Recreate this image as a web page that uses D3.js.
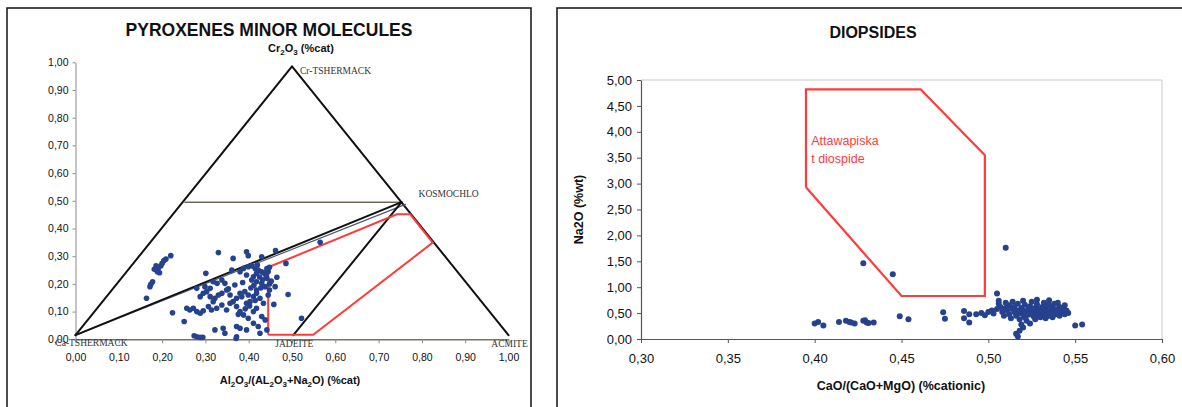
<!DOCTYPE html>
<html>
<head>
<meta charset="utf-8">
<script src="https://cdn.jsdelivr.net/npm/d3@7"></script>
<style>
  html, body { margin: 0; padding: 0; background: #fff; }
  svg { display: block; }
  text { font-family: "Liberation Sans", Arial, sans-serif; }
</style>
</head>
<body>
<svg id="chart" width="1182" height="407"></svg>
<script>
// ---------- Pyroxenes minor molecules (ternary projection) ----------
const pyxTicks = [0, 0.1, 0.2, 0.3, 0.4, 0.5, 0.6, 0.7, 0.8, 0.9, 1.0];

// end-member vertices [x, y]
const endMembers = [
  { name: "Ca-TSHERMACK", x: 0.0,   y: 0.015 },
  { name: "Cr-TSHERMACK", x: 0.5,   y: 0.985 },
  { name: "ACMITE",       x: 1.0,   y: 0.015 },
  { name: "KOSMOCHLO",    x: 0.753, y: 0.495 },
  { name: "JADEITE",      x: 0.503, y: 0.015 }
];

// reference field (red outline)
const pyxFieldX = [0.445, 0.445, 0.742, 0.773, 0.825, 0.549, 0.445];
const pyxFieldY = [0.016, 0.260, 0.451, 0.451, 0.349, 0.016, 0.016];

// analysed grains: Al2O3/(Al2O3+Na2O) and Cr2O3
const pyxX = [
  0.220,0.209,0.204,0.200,0.197,0.191,0.186,0.182,0.194,0.189,
  0.178,0.174,0.172,0.164,0.224,0.251,0.274,0.280,0.288,0.294,
  0.301,0.330,0.364,0.395,0.399,0.430,0.462,0.486,
  0.361,0.380,0.388,0.399,0.407,0.415,0.422,0.430,0.438,0.442,
  0.418,0.411,0.395,0.407,0.418,0.430,0.438,0.465,0.461,0.448,
  0.280,0.288,0.295,0.303,0.311,0.318,0.322,0.330,0.338,0.345,
  0.349,0.357,0.364,0.372,0.380,0.384,0.391,0.399,0.395,0.403,
  0.411,0.418,0.426,0.434,
  0.257,0.264,0.272,0.280,0.288,0.295,0.307,0.314,0.326,0.338,
  0.349,0.357,0.372,0.380,0.388,0.399,0.411,0.418,0.430,0.438,
  0.322,0.341,0.345,0.372,0.380,0.395,0.411,0.422,0.426,0.442,
  0.372,0.371,0.491,0.458,0.522,0.327,0.338,0.318,0.299,0.311,
  0.565,0.445,0.448,0.440,0.452,0.448,0.442,0.418,
  0.405,0.412,0.425,0.432,0.402,0.392,0.376,0.368,0.353,0.386,
  0.420,0.434,0.428,0.415,0.445
];
const pyxY = [
  0.302,0.290,0.284,0.274,0.265,0.256,0.265,0.253,0.240,0.244,
  0.208,0.199,0.190,0.148,0.096,0.064,0.013,0.009,0.007,0.007,
  0.238,0.313,0.292,0.316,0.302,0.298,0.320,0.274,
  0.250,0.244,0.256,0.262,0.265,0.256,0.250,0.244,0.238,0.220,
  0.238,0.226,0.232,0.214,0.208,0.202,0.190,0.224,0.190,0.178,
  0.184,0.154,0.166,0.172,0.154,0.136,0.148,0.160,0.166,0.202,
  0.178,0.160,0.136,0.148,0.166,0.154,0.172,0.160,0.130,0.136,
  0.154,0.166,0.148,0.130,
  0.112,0.106,0.112,0.100,0.094,0.103,0.118,0.106,0.112,0.124,
  0.106,0.130,0.118,0.100,0.088,0.076,0.100,0.112,0.082,0.070,
  0.034,0.040,0.022,0.046,0.040,0.034,0.058,0.046,0.022,0.034,
  0.009,0.003,0.162,0.126,0.076,0.202,0.214,0.208,0.190,0.184,
  0.350,0.245,0.260,0.230,0.210,0.200,0.255,0.178,
  0.185,0.195,0.225,0.215,0.120,0.110,0.090,0.196,0.182,0.205,
  0.268,0.240,0.185,0.140,0.160
];

// ---------- Diopsides ----------
const diXTicks = [0.30, 0.35, 0.40, 0.45, 0.50, 0.55, 0.60];
const diYTicks = [0, 0.5, 1.0, 1.5, 2.0, 2.5, 3.0, 3.5, 4.0, 4.5, 5.0];

// Attawapiskat diopside field
const diFieldX = [0.395, 0.395, 0.461, 0.498, 0.498, 0.450, 0.395];
const diFieldY = [2.93,  4.82,  4.82,  3.55,  0.83,  0.83,  2.93];

// CaO/(CaO+MgO) and Na2O wt%
const diX = [
  0.428,0.445,0.510,0.505,0.449,0.454,0.474,0.475,0.486,0.489,0.486,0.489,
  0.418,0.421,0.428,0.430,0.434,0.400,0.402,0.405,0.414,0.420,0.423,0.429,0.431,
  0.550,0.554,
  0.493,0.496,0.498,0.500,0.502,0.503,0.505,0.506,0.507,0.508,0.509,0.510,
  0.511,0.512,0.512,0.513,0.514,0.515,0.515,0.516,0.517,0.517,0.518,0.518,
  0.519,0.520,0.520,0.521,0.521,0.522,0.522,0.523,0.523,0.524,0.524,0.525,
  0.525,0.526,0.526,0.527,0.527,0.528,0.528,0.529,0.529,0.530,0.530,0.531,
  0.531,0.532,0.532,0.533,0.533,0.534,0.534,0.535,0.535,0.536,0.536,0.537,
  0.537,0.538,0.538,0.539,0.540,0.540,0.541,0.541,0.542,0.542,0.543,0.544,
  0.545,0.546,
  0.516,0.518,0.520,0.519,0.517,
  0.510,0.506,0.514,0.520,0.528,0.535,0.540,0.544
];
const diY = [
  1.46,1.25,1.76,0.88,0.44,0.38,0.515,0.39,0.54,0.48,0.40,0.32,
  0.35,0.32,0.35,0.32,0.32,0.30,0.33,0.26,0.33,0.33,0.30,0.36,0.31,
  0.26,0.28,
  0.48,0.50,0.46,0.52,0.55,0.49,0.58,0.68,0.62,0.52,0.45,0.60,
  0.55,0.65,0.48,0.40,0.58,0.52,0.62,0.45,0.55,0.68,0.50,0.38,
  0.60,0.48,0.55,0.66,0.42,0.52,0.35,0.58,0.47,0.63,0.30,0.55,
  0.72,0.44,0.50,0.60,0.38,0.53,0.67,0.46,0.58,0.50,0.42,0.62,
  0.55,0.70,0.48,0.58,0.40,0.52,0.65,0.45,0.75,0.56,0.50,0.62,
  0.42,0.55,0.68,0.48,0.58,0.52,0.62,0.45,0.55,0.50,0.60,0.48,
  0.55,0.50,
  0.10,0.16,0.22,0.28,0.05,
  0.70,0.74,0.72,0.74,0.76,0.66,0.70,0.65
];

const fmt = d => d.toFixed(2).replace(".", ",");
const dotColor = "#26428e";
const svg = d3.select("#chart");

// panel frames
svg.append("rect").attr("x", 7).attr("y", 8).attr("width", 524).attr("height", 420)
  .attr("fill", "none").attr("stroke", "#111").attr("stroke-width", 1.5);
svg.append("rect").attr("x", 557).attr("y", 8).attr("width", 640).attr("height", 420)
  .attr("fill", "none").attr("stroke", "#111").attr("stroke-width", 1.5);

const styleTicks = (g, size) => g.selectAll(".tick text")
  .style("font-size", size).style("font-family", "Liberation Sans, Arial, sans-serif").style("fill", "#111");

// ================= left panel =================
const xL = d3.scaleLinear().domain([0, 1]).range([75.5, 508.5]);
const yL = d3.scaleLinear().domain([0, 1]).range([339.3, 62.3]);
const L = svg.append("g");

L.append("text").attr("x", 269).attr("y", 36).attr("text-anchor", "middle")
  .style("font-size", "17.5px").style("font-weight", "bold").style("fill", "#111")
  .text("PYROXENES MINOR MOLECULES");
const crLab = L.append("text").attr("x", 301).attr("y", 52).attr("text-anchor", "middle")
  .style("font-size", "11px").style("font-weight", "bold").style("fill", "#111");
crLab.append("tspan").text("Cr");
crLab.append("tspan").attr("dy", 3).style("font-size", "8px").text("2");
crLab.append("tspan").attr("dy", -3).text("O");
crLab.append("tspan").attr("dy", 3).style("font-size", "8px").text("3");
crLab.append("tspan").attr("dy", -3).text(" (%cat)");

const yAxL = L.append("g").attr("transform", `translate(${xL(0)},0)`)
  .call(d3.axisLeft(yL).tickValues(pyxTicks).tickFormat(fmt).tickSize(3).tickSizeOuter(0).tickPadding(4));
yAxL.select(".domain").attr("stroke", "#8a8a8a");
yAxL.selectAll(".tick line").attr("stroke", "#8a8a8a");
styleTicks(yAxL, "10.5px");

const xAxL = L.append("g").attr("transform", `translate(0,${yL(0)})`)
  .call(d3.axisBottom(xL).tickValues(pyxTicks).tickFormat(fmt).tickSize(4).tickSizeOuter(0).tickPadding(10));
xAxL.select(".domain").attr("stroke", "#7d7262").attr("stroke-width", 1.5);
xAxL.selectAll(".tick line").attr("stroke", "#8a8a8a");
styleTicks(xAxL, "10.5px");

const xTitle = L.append("text").attr("x", 290).attr("y", 384).attr("text-anchor", "middle")
  .style("font-size", "11px").style("font-weight", "bold").style("fill", "#111");
[["Al",0],["2",1],["O",0],["3",1],["/(AL",0],["2",1],["O",0],["3",1],["+Na",0],["2",1],["O)  (%cat)",0]]
  .forEach(([t, sub], i, arr) => {
    const prevSub = i > 0 ? arr[i - 1][1] : 0;
    xTitle.append("tspan").attr("dy", sub === prevSub ? 0 : (sub ? 3 : -3))
      .style("font-size", sub ? "8px" : "11px").text(t);
  });

const em = Object.fromEntries(endMembers.map(d => [d.name, d]));
const seg = (a, b, color, w) => L.append("line")
  .attr("x1", xL(a.x)).attr("y1", yL(a.y)).attr("x2", xL(b.x)).attr("y2", yL(b.y))
  .attr("stroke", color).attr("stroke-width", w).attr("stroke-linecap", "round");

// half-height tie line
seg({ x: 0.253, y: 0.495 }, em["KOSMOCHLO"], "#6f6a5c", 1.5);
// triangle sides and internal joins
seg(em["Ca-TSHERMACK"], em["Cr-TSHERMACK"], "#111", 2);
seg(em["Cr-TSHERMACK"], em["ACMITE"], "#111", 2);
seg(em["Ca-TSHERMACK"], { x: 0.762, y: 0.487 }, "#4c5a74", 1.2);
seg(em["Ca-TSHERMACK"], em["KOSMOCHLO"], "#111", 2);
seg(em["JADEITE"], em["KOSMOCHLO"], "#111", 2);

// red reference field
L.append("path")
  .attr("d", d3.line().x(d => xL(d[0])).y(d => yL(d[1]))(pyxFieldX.map((x, i) => [x, pyxFieldY[i]])))
  .attr("fill", "none").attr("stroke", "#ff3b3b").attr("stroke-width", 2);

// end-member labels
const emLab = (t, x, y, anchor) => L.append("text")
  .attr("x", x).attr("y", y).attr("text-anchor", anchor || "start")
  .style("font-size", "9.5px").style("font-family", "Liberation Serif, serif").style("fill", "#333").text(t);
emLab("Cr-TSHERMACK", xL(0.5) + 8, yL(0.985) + 8);
emLab("KOSMOCHLO", xL(0.753) + 17, yL(0.495) - 5);
emLab("JADEITE", xL(0.503) + 1, yL(0) + 8, "middle");
emLab("ACMITE", xL(1.0) + 1, yL(0) + 8, "middle");
emLab("Ca-TSHERMACK", xL(0) + 16, yL(0) + 7, "middle");

// analysed points
L.append("g").selectAll("circle").data(pyxX.map((x, i) => [x, pyxY[i]])).join("circle")
  .attr("cx", d => xL(d[0])).attr("cy", d => yL(d[1])).attr("r", 2.8).attr("fill", dotColor);

// ================= right panel =================
const xR = d3.scaleLinear().domain([0.3, 0.6]).range([641, 1162]);
const yR = d3.scaleLinear().domain([0, 5]).range([339, 80]);
const R = svg.append("g");

R.append("text").attr("x", 873).attr("y", 38).attr("text-anchor", "middle")
  .style("font-size", "16px").style("font-weight", "bold").style("fill", "#111").text("DIOPSIDES");

// plot-area border
R.append("path").attr("d", `M${xR(0.3)},${yR(5)}H${xR(0.6)}V${yR(0)}`)
  .attr("fill", "none").attr("stroke", "#c9c9c9").attr("stroke-width", 1);

const yAxR = R.append("g").attr("transform", `translate(${xR(0.3)},0)`)
  .call(d3.axisLeft(yR).tickValues(diYTicks).tickFormat(fmt).tickSize(4).tickSizeOuter(0).tickPadding(5));
yAxR.select(".domain").attr("stroke", "#555").attr("stroke-width", 1.2);
yAxR.selectAll(".tick line").attr("stroke", "#555");
styleTicks(yAxR, "13px");

const xAxR = R.append("g").attr("transform", `translate(0,${yR(0)})`)
  .call(d3.axisBottom(xR).tickValues(diXTicks).tickFormat(fmt).tickSize(4).tickSizeOuter(0).tickPadding(11));
xAxR.select(".domain").attr("stroke", "#555").attr("stroke-width", 1.2);
xAxR.selectAll(".tick line").attr("stroke", "#555");
styleTicks(xAxR, "13px");

R.append("text").attr("transform", `translate(583,${(yR(0) + yR(5)) / 2}) rotate(-90)`)
  .attr("text-anchor", "middle").style("font-size", "12.5px").style("font-weight", "bold")
  .style("fill", "#111").text("Na2O (%wt)");
R.append("text").attr("x", 901).attr("y", 390).attr("text-anchor", "middle")
  .style("font-size", "12.5px").style("font-weight", "bold").style("fill", "#111")
  .text("CaO/(CaO+MgO)  (%cationic)");

R.append("path")
  .attr("d", d3.line().x(d => xR(d[0])).y(d => yR(d[1]))(diFieldX.map((x, i) => [x, diFieldY[i]])))
  .attr("fill", "none").attr("stroke", "#ff3b3b").attr("stroke-width", 2.2).attr("stroke-linejoin", "miter");

const fieldLab = R.append("text").attr("x", xR(0.398)).attr("y", yR(3.75))
  .style("font-size", "12.5px").style("fill", "#ff3b3b");
fieldLab.append("tspan").text("Attawapiska");
fieldLab.append("tspan").attr("x", xR(0.398)).attr("dy", 18).text("t diospide");

R.append("g").selectAll("circle").data(diX.map((x, i) => [x, diY[i]])).join("circle")
  .attr("cx", d => xR(d[0])).attr("cy", d => yR(d[1])).attr("r", 3).attr("fill", dotColor);
</script>
</body>
</html>
